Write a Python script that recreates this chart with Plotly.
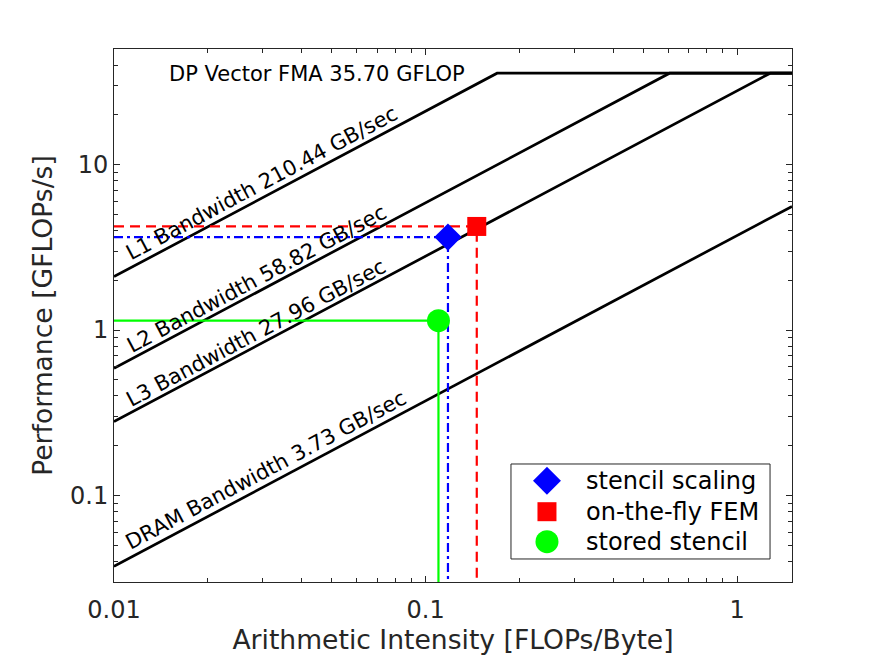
import numpy as np
import plotly.graph_objects as go

# ---- data ----
peak_label = "DP Vector FMA 35.70 GFLOP"
peak_gflops = 35.70
bw_names = ["L1 Bandwidth 210.44 GB/sec", "L2 Bandwidth 58.82 GB/sec",
            "L3 Bandwidth 27.96 GB/sec", "DRAM Bandwidth 3.73 GB/sec"]
bw_values = [210.44, 58.82, 27.96, 3.73]

point_names = ["stencil scaling", "on-the-fly FEM", "stored stencil"]
point_ai = [0.118, 0.146, 0.110]
point_perf = [3.65, 4.23, 1.14]

x_ticks = [0.01, 0.1, 1]
x_ticklabels = ["0.01", "0.1", "1"]
y_ticks = [0.1, 1, 10]
y_ticklabels = ["0.1", "1", "10"]

X_MIN, X_MAX = 0.01, 1.5
Y_MIN, Y_MAX = 0.03, 50

# ---- styles ----
FONT = "DejaVu Sans"
AXC = "#262626"
point_colors = ["#0000FF", "#FF0000", "#00FF00"]
point_symbols = ["diamond", "square", "circle"]
point_sizes = [21, 19, 23]
legend_sizes = [21.5, 19, 23]
point_dash = ["9px,4px,3px,4px", "10px,6px", "solid"]

fig = go.Figure()

# roofline lines
for bw in bw_values:
    ridge = min(peak_gflops / bw, X_MAX)
    xs = [X_MIN, ridge, X_MAX]
    ys = [min(peak_gflops, bw * x) for x in xs]
    fig.add_trace(go.Scatter(x=xs, y=ys, mode="lines",
                             line=dict(color="black", width=2.7),
                             showlegend=False, hoverinfo="skip"))

# guide lines to axes
for xi, yi, c, d in zip(point_ai, point_perf, point_colors, point_dash):
    fig.add_trace(go.Scatter(x=[X_MIN, xi, xi], y=[yi, yi, Y_MIN], mode="lines",
                             line=dict(color=c, width=2.2, dash=d),
                             showlegend=False, hoverinfo="skip"))

# points
for name, xi, yi, c, s, sz in zip(point_names, point_ai, point_perf,
                                  point_colors, point_symbols, point_sizes):
    fig.add_trace(go.Scatter(x=[xi], y=[yi], mode="markers", name=name,
                             showlegend=False,
                             marker=dict(color=c, symbol=s, size=sz, opacity=1,
                                         line=dict(width=0))))

# labels
ann_pos = [(0.02988, 7.74), (0.0287, 2.022), (0.02856, 0.9627), (0.03081, 0.1420)]
for txt, (ax_, ay_) in zip(bw_names, ann_pos):
    fig.add_annotation(x=np.log10(ax_), y=np.log10(ay_), text=txt, showarrow=False,
                       textangle=-28, xanchor="center", yanchor="middle",
                       font=dict(family=FONT, size=21, color="black"))
fig.add_annotation(x=np.log10(0.04484), y=np.log10(35.55), text=peak_label,
                   showarrow=False, xanchor="center", yanchor="middle",
                   font=dict(family=FONT, size=21, color="black"))

# legend box (drawn in paper space on an overlay axis)
LEG_X0, LEG_X1, LEG_Y0, LEG_Y1 = 0.5855, 0.9676, 0.0432, 0.2214
LEG_MX, LEG_TX = 0.6386, 0.6932
LEG_ROWS = [0.1901, 0.1319, 0.0756]
fig.add_shape(type="rect", xref="paper", yref="paper", x0=LEG_X0, x1=LEG_X1,
              y0=LEG_Y0, y1=LEG_Y1, line=dict(color=AXC, width=1), fillcolor="white",
              layer="below")
fig.add_trace(go.Scatter(x=[LEG_MX] * len(point_names), y=LEG_ROWS, mode="markers",
                         xaxis="x2", yaxis="y2", showlegend=False, hoverinfo="skip",
                         cliponaxis=False,
                         marker=dict(color=point_colors, symbol=point_symbols, opacity=1,
                                     size=legend_sizes, line=dict(width=0))))
for name, ry in zip(point_names, LEG_ROWS):
    fig.add_annotation(xref="paper", yref="paper", x=LEG_TX, y=ry, text=name,
                       showarrow=False, xanchor="left", yanchor="middle",
                       font=dict(family=FONT, size=24, color="black"))

minor_x = [k * 10.0 ** e for e in range(-2, 1) for k in range(2, 10) if k * 10.0 ** e < X_MAX]
minor_y = [k * 10.0 ** e for e in range(-2, 2) for k in range(2, 10) if Y_MIN <= k * 10.0 ** e < Y_MAX]


def axis_style(**kw):
    d = dict(showgrid=False, zeroline=False, showline=True, linecolor=AXC,
             linewidth=1, mirror="ticks", ticks="inside", ticklen=6,
             tickcolor=AXC, tickwidth=1,
             tickfont=dict(family=FONT, size=24, color=AXC))
    d.update(kw)
    return d


fig.update_layout(
    xaxis=axis_style(
        type="log", range=[np.log10(X_MIN), np.log10(X_MAX)],
        tickvals=x_ticks, ticktext=x_ticklabels, ticklabelstandoff=6,
        minor=dict(tickvals=minor_x, ticks="inside", ticklen=4, tickcolor=AXC, showgrid=False),
        title=dict(text="Arithmetic Intensity [FLOPs/Byte]",
                   font=dict(family=FONT, size=26.6, color=AXC), standoff=4)),
    yaxis=axis_style(
        type="log", range=[np.log10(Y_MIN), np.log10(Y_MAX)],
        tickvals=y_ticks, ticktext=y_ticklabels,
        minor=dict(tickvals=minor_y, ticks="inside", ticklen=4, tickcolor=AXC, showgrid=False),
        title=dict(text="Performance [GFLOPs/s]",
                   font=dict(family=FONT, size=26.6, color=AXC), standoff=9)),
    xaxis2=dict(overlaying="x", range=[0, 1], visible=False, fixedrange=True),
    yaxis2=dict(overlaying="y", range=[0, 1], visible=False, fixedrange=True,
                anchor="x2"),
    width=875, height=656,
    # page body adds an 8px offset; margins compensate so the plot area
    # lands at the reference position
    margin=dict(l=106, r=91, t=41, b=82),
    paper_bgcolor="white", plot_bgcolor="white",
    font=dict(family=FONT, color=AXC),
    showlegend=False,
)

fig.write_html("out.html")
